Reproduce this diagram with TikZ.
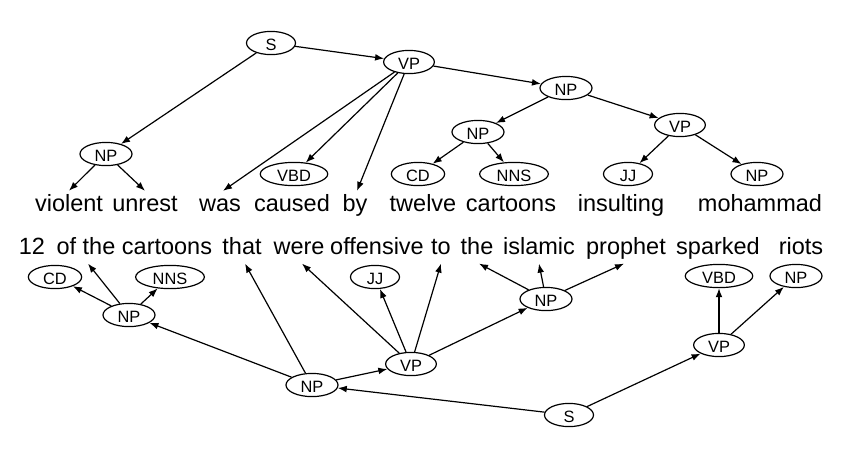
\documentclass[tikz,border=0pt]{standalone}
\usepackage{fontspec}
\setmainfont{Liberation Sans}
\usetikzlibrary{arrows.meta,shapes.geometric}

\begin{document}
\begin{tikzpicture}[
  x=0.5pt, y=-0.5pt,
  cat/.style={ellipse, draw, line width=0.6pt, font=\fontsize{8.2}{9}\selectfont, inner xsep=3.5pt, inner ysep=0.5pt, minimum width=24.5pt, minimum height=10pt, text height=0.72em, text depth=0pt},
  word/.style={anchor=base, font=\fontsize{11.75}{14}\selectfont, inner sep=2.5pt, text height=0.74em, text depth=0.21em},
  arrow/.style={-{Latex[length=4.5pt,width=3.4pt]}, line width=0.6pt}
]
\useasboundingbox (0,0) rectangle (842,452);
% first sentence
\node[cat] (s1) at (271,43) {S};
\node[cat] (vp1) at (409,62) {VP};
\node[cat] (np1) at (106,154) {NP};
\node[cat] (np2) at (566,88) {NP};
\node[cat] (np3) at (478,132) {NP};
\node[cat] (vp2) at (680,125) {VP};
\node[cat] (vbd1) at (294,174) {VBD};
\node[cat] (cd1) at (418,174) {CD};
\node[cat] (nns1) at (514,174) {NNS};
\node[cat] (jj1) at (628,174) {JJ};
\node[cat] (np4) at (757,174) {NP};
\node[word] (violent) at (69,211) {violent};
\node[word] (unrest) at (145,211) {unrest};
\node[word] (was) at (220,211) {was};
\node[word] (caused) at (292,211) {caused};
\node[word] (by) at (355,211) {by};
\node[word] (twelve) at (423,211) {twelve};
\node[word] (cartoons1) at (511,211) {cartoons};
\node[word] (insulting) at (621,211) {insulting};
\node[word] (mohammad) at (760,211) {mohammad};
\draw[arrow] (s1) -- (vp1);
\draw[arrow] (s1) -- (np1);
\draw[arrow] (np1) -- (violent.north);
\draw[arrow] (np1) -- (unrest.north);
\draw[arrow] (vp1) -- ([xshift=1.5pt]was.north);
\draw[arrow] (vp1) -- (vbd1);
\draw[arrow] (vp1) -- ([xshift=1pt]by.north);
\draw[arrow] (vp1) -- (np2);
\draw[arrow] (np2) -- (np3);
\draw[arrow] (np2) -- (vp2);
\draw[arrow] (np3) -- (cd1);
\draw[arrow] (np3) -- (nns1);
\draw[arrow] (vp2) -- (jj1);
\draw[arrow] (vp2) -- (np4);
% second sentence
\node[word] (twelvenum) at (32,254) {12};
\node[word] (ofthe) at (86,254) {of the};
\node[word] (cartoons2) at (167,254) {cartoons};
\node[word] (that) at (242,254) {that};
\node[word] (were) at (299,254) {were};
\node[word] (offensive) at (377,254) {offensive};
\node[word] (to) at (441,254) {to};
\node[word] (the) at (477,254) {the};
\node[word] (islamic) at (539,254) {islamic};
\node[word] (prophet) at (626,254) {prophet};
\node[word] (sparked) at (718,254) {sparked};
\node[word] (riots) at (801,254) {riots};
\node[cat] (cd2) at (55,277) {CD};
\node[cat] (nns2) at (170,277) {NNS};
\node[cat] (jj2) at (375,277) {JJ};
\node[cat] (vbd2) at (719,276) {VBD};
\node[cat] (np8) at (796,276) {NP};
\node[cat] (np5) at (129,315) {NP};
\node[cat] (np7) at (546,299) {NP};
\node[cat] (vp4) at (719,345) {VP};
\node[cat] (vp3) at (411,364) {VP};
\node[cat] (np6) at (312,385) {NP};
\node[cat] (s2) at (569,415) {S};
\draw[arrow] (s2) -- (np6);
\draw[arrow] (s2) -- (vp4);
\draw[arrow] (np6) -- (np5);
\draw[arrow] (np6) -- ([xshift=1.5pt]that.south);
\draw[arrow] (np6) -- (vp3);
\draw[arrow] (np5) -- (cd2);
\draw[arrow] (np5) -- ([xshift=1pt]ofthe.south);
\draw[arrow] (np5) -- (nns2);
\draw[arrow] (vp3) -- ([xshift=1.5pt]were.south);
\draw[arrow] (vp3) -- (jj2);
\draw[arrow] (vp3) -- (to.south);
\draw[arrow] (vp3) -- (np7);
\draw[arrow] (np7) -- ([xshift=1pt]the.south);
\draw[arrow] (np7) -- (islamic.south);
\draw[arrow] (np7) -- ([xshift=-1pt]prophet.south);
\draw[arrow] (vp4) -- (vbd2);
\draw[arrow] (vp4) -- (np8);
\end{tikzpicture}
\end{document}
